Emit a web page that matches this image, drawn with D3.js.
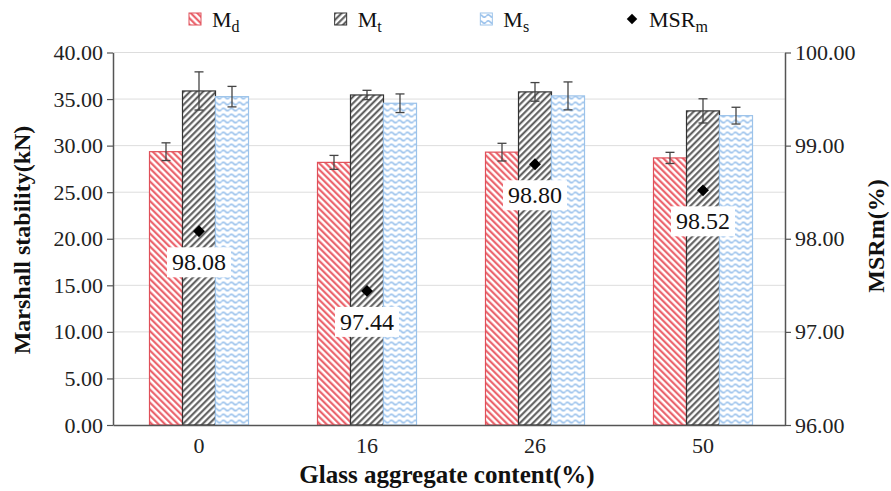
<!DOCTYPE html>
<meta charset="utf-8">
<script src="https://d3js.org/d3.v7.min.js"></script>
<style>
body { margin: 0; background: #fff; }
svg, svg text { font-family: "Liberation Serif", "Times New Roman", serif; }
.axis path { stroke: #555; stroke-width: 1.5px; }
.axis line { stroke: #555; stroke-width: 1.2px; }
.axis text { font-size: 22px; fill: #222; }
.grid line { stroke: #ddd; stroke-width: 1px; }
.title { font-weight: bold; fill: #111; }
</style>
<body></body>
<script>

// data
var categories = ['0', '16', '26', '50'];
var seriesNames = ['Md', 'Mt', 'Ms'];
var mdValues = [29.35, 28.2, 29.3, 28.68];
var mdErrors = [0.95, 0.75, 0.95, 0.6];
var mtValues = [35.87, 35.44, 35.77, 33.73];
var mtErrors = [2.05, 0.5, 1.0, 1.3];
var msValues = [35.26, 34.55, 35.34, 33.22];
var msErrors = [1.1, 1.0, 1.5, 0.9];
var msrValues = [98.08, 97.44, 98.80, 98.52];
var leftTicks = [0, 5, 10, 15, 20, 25, 30, 35, 40];
var rightTicks = [96, 97, 98, 99, 100];

var serif = '"Liberation Serif", "Times New Roman", serif';
var width = 891, height = 491;
var margin = {top: 52.5, right: 106, bottom: 66, left: 113};
var innerW = width - margin.left - margin.right;
var innerH = height - margin.top - margin.bottom;

var svg = d3.select('body').append('svg')
  .attr('width', width)
  .attr('height', height)
  .attr('font-family', serif);

// patterns
var defs = svg.append('defs');

function stripes(id, color, angle) {
  var p = defs.append('pattern')
    .attr('id', id)
    .attr('patternUnits', 'userSpaceOnUse')
    .attr('width', 4.6).attr('height', 4.6)
    .attr('patternTransform', 'rotate(' + angle + ')');
  p.append('rect').attr('width', 4.6).attr('height', 4.6).attr('fill', '#fff');
  p.append('line')
    .attr('x1', 1.2).attr('y1', 0).attr('x2', 1.2).attr('y2', 4.6)
    .attr('stroke', color).attr('stroke-width', 2);
}
stripes('patMd', '#e9545e', -45);
stripes('patMt', '#555', 45);

var wave = defs.append('pattern')
  .attr('id', 'patMs')
  .attr('patternUnits', 'userSpaceOnUse')
  .attr('width', 8).attr('height', 6);
wave.append('rect').attr('width', 8).attr('height', 6).attr('fill', '#fff');
wave.append('path')
  .attr('d', 'M0,3 Q2,0.5 4,3 T8,3')
  .attr('fill', 'none').attr('stroke', '#8fbbea').attr('stroke-width', 1.5);

var fills = {Md: 'url(#patMd)', Mt: 'url(#patMt)', Ms: 'url(#patMs)'};
var borders = {Md: '#e0505a', Mt: '#333', Ms: '#9cc3ea'};

var g = svg.append('g')
  .attr('transform', 'translate(' + margin.left + ',' + margin.top + ')');

// scales
var x0 = d3.scaleBand().domain(categories).range([0, innerW]);
var x1 = d3.scaleBand().domain(seriesNames).range([0, 99]);
var yLeft = d3.scaleLinear().domain([0, 40]).range([innerH, 0]);
var yRight = d3.scaleLinear().domain([96, 100]).range([innerH, 0]);

// grid
g.append('g').attr('class', 'grid')
  .selectAll('line').data(leftTicks.slice(1)).enter().append('line')
  .attr('x1', 0).attr('x2', innerW)
  .attr('y1', d => yLeft(d)).attr('y2', d => yLeft(d));

// bars
var rows = categories.map(function(c, i) {
  return {
    cat: c,
    bars: [
      {key: 'Md', value: mdValues[i], err: mdErrors[i]},
      {key: 'Mt', value: mtValues[i], err: mtErrors[i]},
      {key: 'Ms', value: msValues[i], err: msErrors[i]}
    ]
  };
});

var groups = g.selectAll('.grp').data(rows).enter().append('g')
  .attr('class', 'grp')
  .attr('transform', d => 'translate(' + (x0(d.cat) + x0.bandwidth() / 2 - 49.5 + 2) + ',0)');

groups.selectAll('rect').data(d => d.bars).enter().append('rect')
  .attr('x', d => x1(d.key))
  .attr('y', d => yLeft(d.value))
  .attr('width', x1.bandwidth())
  .attr('height', d => innerH - yLeft(d.value))
  .attr('fill', d => fills[d.key])
  .attr('stroke', d => borders[d.key])
  .attr('stroke-width', 1.2);

// error bars
var eb = groups.selectAll('.err').data(d => d.bars).enter().append('g')
  .attr('class', 'err')
  .attr('stroke', '#444').attr('stroke-width', 1.3);
eb.append('line')
  .attr('x1', d => x1(d.key) + x1.bandwidth() / 2)
  .attr('x2', d => x1(d.key) + x1.bandwidth() / 2)
  .attr('y1', d => yLeft(d.value + d.err))
  .attr('y2', d => yLeft(d.value - d.err));
eb.append('line')
  .attr('x1', d => x1(d.key) + x1.bandwidth() / 2 - 4.5)
  .attr('x2', d => x1(d.key) + x1.bandwidth() / 2 + 4.5)
  .attr('y1', d => yLeft(d.value + d.err))
  .attr('y2', d => yLeft(d.value + d.err));
eb.append('line')
  .attr('x1', d => x1(d.key) + x1.bandwidth() / 2 - 4.5)
  .attr('x2', d => x1(d.key) + x1.bandwidth() / 2 + 4.5)
  .attr('y1', d => yLeft(d.value - d.err))
  .attr('y2', d => yLeft(d.value - d.err));

// MSR markers and labels
var msr = groups.append('g')
  .attr('transform', (d, i) => 'translate(' + (x1('Mt') + x1.bandwidth() / 2) + ',' + yRight(msrValues[i]) + ')');
msr.append('path')
  .attr('d', d3.symbol().type(d3.symbolDiamond2).size(90))
  .attr('fill', '#000');
msr.append('rect')
  .attr('x', -32).attr('y', 16)
  .attr('width', 64).attr('height', 30)
  .attr('fill', '#fff');
msr.append('text')
  .attr('y', 39)
  .attr('text-anchor', 'middle')
  .style('font-family', serif)
  .style('font-size', '24px')
  .attr('fill', '#111')
  .text((d, i) => msrValues[i].toFixed(2));

// axes
var fmt = d3.format('.2f');
var yAxisL = g.append('g').attr('class', 'axis')
  .call(d3.axisLeft(yLeft).tickValues(leftTicks).tickFormat(fmt).tickSize(6).tickSizeOuter(0).tickPadding(4));

var yAxisR = g.append('g').attr('class', 'axis')
  .attr('transform', 'translate(' + innerW + ',0)')
  .call(d3.axisRight(yRight).tickValues(rightTicks).tickFormat(fmt).tickSize(6).tickSizeOuter(0).tickPadding(4));

var xAxis = g.append('g').attr('class', 'axis')
  .attr('transform', 'translate(0,' + innerH + ')')
  .call(d3.axisBottom(x0).tickSize(0).tickPadding(12));
xAxis.selectAll('text').attr('dx', 2);

[yAxisL, yAxisR, xAxis].forEach(function(a) {
  a.attr('font-family', serif).attr('font-size', 22);
  a.selectAll('text').style('font-family', serif);
});

// titles
svg.append('text').attr('class', 'title')
  .attr('transform', 'translate(30,240) rotate(-90)')
  .attr('text-anchor', 'middle')
  .style('font-size', '24px')
  .text('Marshall stability(kN)');

svg.append('text').attr('class', 'title')
  .attr('transform', 'translate(884,236) rotate(-90)')
  .attr('text-anchor', 'middle')
  .style('font-size', '24px')
  .text('MSRm(%)');

svg.append('text').attr('class', 'title')
  .attr('x', 447).attr('y', 483)
  .attr('text-anchor', 'middle')
  .style('font-size', '25px')
  .text('Glass aggregate content(%)');

// legend
var legendItems = [
  {main: 'M', sub: 'd', key: 'Md'},
  {main: 'M', sub: 't', key: 'Mt'},
  {main: 'M', sub: 's', key: 'Ms'},
  {main: 'MSR', sub: 'm', key: 'MSR'}
];
var legendX = d3.scalePoint().domain(legendItems.map(d => d.key)).range([195, 632]);

var leg = svg.append('g').selectAll('g').data(legendItems).enter().append('g')
  .attr('transform', d => 'translate(' + legendX(d.key) + ',19)');

leg.filter(d => d.key !== 'MSR').append('rect')
  .attr('x', -6).attr('y', -6).attr('width', 12).attr('height', 12)
  .attr('fill', d => fills[d.key])
  .attr('stroke', d => borders[d.key]).attr('stroke-width', 1);
leg.filter(d => d.key === 'MSR').append('path')
  .attr('d', d3.symbol().type(d3.symbolDiamond2).size(70))
  .attr('fill', '#000');

var lt = leg.append('text')
  .attr('x', 17).attr('y', 8)
  .style('font-size', '22px')
  .attr('fill', '#111');
lt.append('tspan').text(d => d.main);
lt.append('tspan').attr('dy', 5).style('font-size', '16px').text(d => d.sub);

</script>
